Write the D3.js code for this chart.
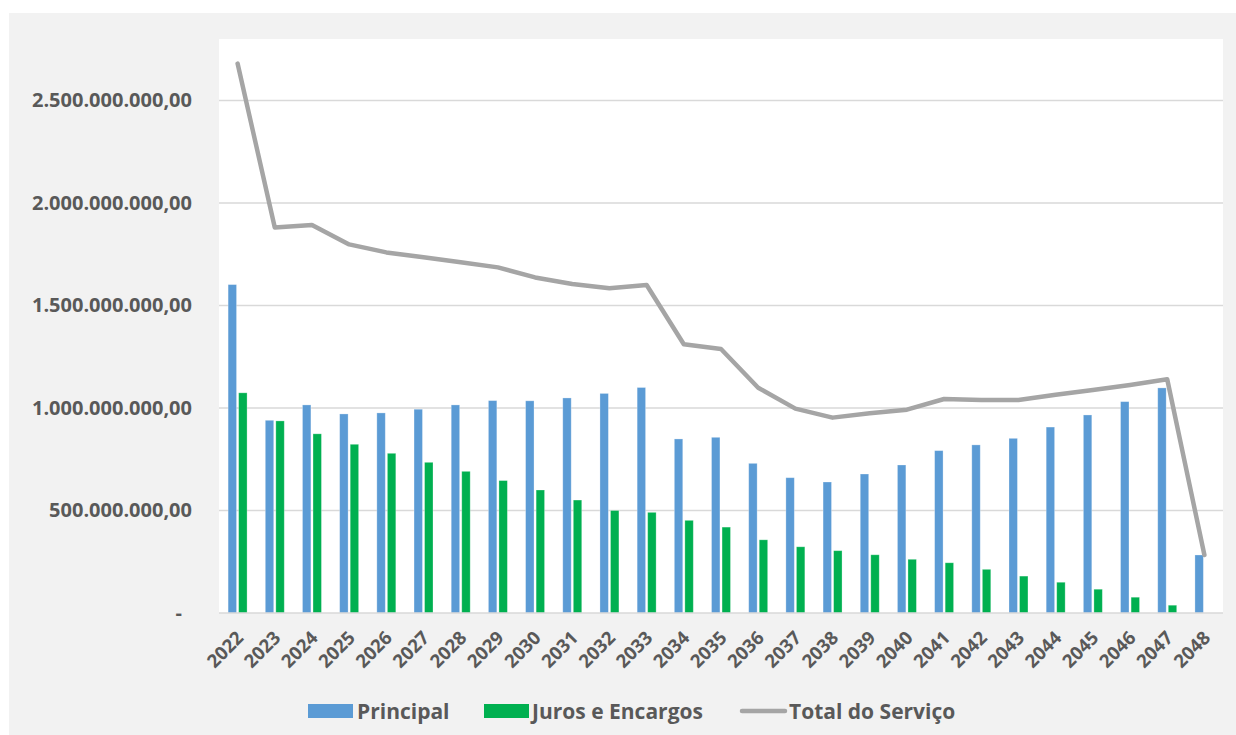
<!DOCTYPE html>
<html>
<head>
<meta charset="utf-8">
<script src="https://cdn.jsdelivr.net/npm/d3@7"></script>
<style>
  html, body { margin: 0; padding: 0; background: #ffffff; }
  svg { display: block; }
  text { font-family: "Open Sans", "Noto Sans", sans-serif; font-weight: 700; fill: #595959; }
</style>
</head>
<body>
<svg id="chart" width="1236" height="735"></svg>
<script>
const years = ["2022","2023","2024","2025","2026","2027","2028","2029","2030","2031","2032","2033","2034","2035","2036","2037","2038","2039","2040","2041","2042","2043","2044","2045","2046","2047","2048"];
const principal = [1602e6, 940e6, 1015e6, 971e6, 976e6, 994e6, 1015e6, 1036e6, 1035e6, 1049e6, 1071e6, 1100e6, 849e6, 857e6, 730e6, 660e6, 639e6, 678e6, 722e6, 792e6, 820e6, 852e6, 907e6, 966e6, 1031e6, 1098e6, 283e6];
const juros = [1074e6, 937e6, 874e6, 823e6, 779e6, 735e6, 691e6, 646e6, 600e6, 551e6, 500e6, 491e6, 452e6, 419e6, 357e6, 323e6, 304e6, 284e6, 262e6, 245e6, 213e6, 180e6, 150e6, 116e6, 77e6, 38e6, 0];
const total = [2680e6, 1881e6, 1893e6, 1798e6, 1759e6, 1735e6, 1711e6, 1686e6, 1637e6, 1605e6, 1584e6, 1600e6, 1311e6, 1288e6, 1099e6, 997e6, 953e6, 974e6, 992e6, 1044e6, 1039e6, 1039e6, 1065e6, 1088e6, 1112e6, 1140e6, 283e6];
const yTicks = [0, 500e6, 1000e6, 1500e6, 2000e6, 2500e6];
const seriesNames = ["Principal", "Juros e Encargos", "Total do Serviço"];
const colors = { p: "#5b9bd5", j: "#00b050", t: "#a5a5a5" };

const svg = d3.select("#chart");
// outer chart panel
svg.append("rect").attr("x", 9).attr("y", 13).attr("width", 1227).attr("height", 722).attr("fill", "#f2f2f2");

const plot = { left: 219, right: 1223, top: 39, bottom: 613 };
svg.append("rect").attr("x", plot.left).attr("y", plot.top)
  .attr("width", plot.right - plot.left).attr("height", plot.bottom - plot.top).attr("fill", "#ffffff");

const x = d3.scaleBand().domain(years).range([plot.left, plot.right]).paddingInner(0.49).paddingOuter(0.245);
const x1 = d3.scaleBand().domain(["p", "j"]).range([0, x.bandwidth()]).paddingInner(0.2);
const y = d3.scaleLinear().domain([0, 2800e6]).range([plot.bottom, plot.top]);

// gridlines
svg.append("g").selectAll("line").data(yTicks.filter(d => d > 0)).join("line")
  .attr("x1", plot.left).attr("x2", plot.right)
  .attr("y1", d => y(d)).attr("y2", d => y(d))
  .attr("stroke", "#d9d9d9").attr("stroke-width", 1.4);

// y labels
const fmt = v => {
  if (v === 0) return "-";
  const s = Math.round(v).toString().replace(/\B(?=(\d{3})+(?!\d))/g, ".");
  return s + ",00";
};
const yAxis = d3.axisLeft(y).tickValues(yTicks).tickFormat(fmt).tickSize(0).tickPadding(0);
const yg = svg.append("g").attr("transform", "translate(192,0)").call(yAxis);
yg.select(".domain").remove();
yg.selectAll("text").attr("font-size", 20).attr("fill", "#595959")
  .attr("font-family", "'Open Sans', sans-serif").attr("font-weight", 700)
  .attr("dx", d => d === 0 ? -10 : 0);

// bars
const g = svg.append("g");
years.forEach((yr, i) => {
  [["p", principal[i]], ["j", juros[i]]].forEach(([k, v]) => {
    if (v <= 0) return;
    g.append("rect")
      .attr("x", x(yr) + x1(k))
      .attr("y", y(v))
      .attr("width", x1.bandwidth())
      .attr("height", y(0) - y(v))
      .attr("fill", colors[k])
      .attr("stroke", "#ffffff").attr("stroke-opacity", 0.35).attr("stroke-width", 0.8);
  });
});

// x axis baseline
svg.append("line").attr("x1", plot.left).attr("x2", plot.right)
  .attr("y1", plot.bottom).attr("y2", plot.bottom)
  .attr("stroke", "#d9d9d9").attr("stroke-width", 1.6);

// total line
const line = d3.line().x((d, i) => x(years[i]) + x.bandwidth() / 2).y(d => y(d));
svg.append("path").datum(total).attr("d", line)
  .attr("fill", "none").attr("stroke", colors.t).attr("stroke-width", 4.5)
  .attr("stroke-linejoin", "round").attr("stroke-linecap", "round");

// x labels
const xAxis = d3.axisBottom(x).tickSize(0).tickPadding(0);
const xg = svg.append("g").attr("transform", `translate(0,${plot.bottom})`).call(xAxis);
xg.select(".domain").remove();
xg.selectAll("text")
  .attr("font-size", 18.5).attr("fill", "#595959")
  .attr("font-family", "'Open Sans', sans-serif").attr("font-weight", 700)
  .attr("text-anchor", "end")
  .attr("dy", null).attr("y", 0)
  .attr("transform", "translate(7,26) rotate(-45)");

// legend
const leg = svg.append("g");
const legItems = [
  { name: seriesNames[0], key: "p", sx: 308, tx: 357 },
  { name: seriesNames[1], key: "j", sx: 484, tx: 532 },
  { name: seriesNames[2], key: "t", sx: 740, tx: 789 }
];
legItems.forEach(it => {
  if (it.key === "t") {
    leg.append("line").attr("x1", it.sx + 2).attr("x2", it.sx + 45).attr("y1", 711).attr("y2", 711)
      .attr("stroke", colors.t).attr("stroke-width", 4.5).attr("stroke-linecap", "round");
  } else {
    leg.append("rect").attr("x", it.sx).attr("y", 704).attr("width", 45).attr("height", 14).attr("fill", colors[it.key]);
  }
  leg.append("text").attr("x", it.tx).attr("y", 711).attr("dy", "0.36em")
    .attr("font-size", 21).text(it.name);
});
</script>
</body>
</html>
